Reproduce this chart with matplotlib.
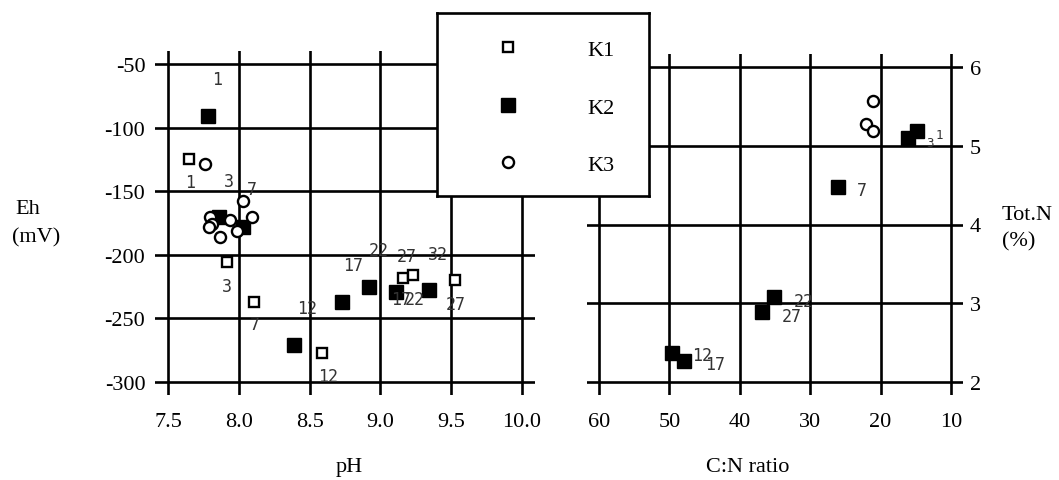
import matplotlib.pyplot as plt
from matplotlib.lines import Line2D

plt.rcParams["axes.unicode_minus"] = False

# ---- data ----
# left panel: pH vs Eh (mV)
k1_ph = [7.65, 7.92, 8.11, 8.59, 9.16, 9.23, 9.53]
k1_eh = [-125, -206, -237, -277, -218, -216, -220]
k2_ph = [7.78, 7.86, 8.03, 8.39, 8.73, 8.92, 9.11, 9.34]
k2_eh = [-91, -170, -178, -271, -237, -225, -229, -228]
k3_ph = [7.76, 8.03, 8.09, 7.80, 7.81, 7.79, 7.94, 7.87, 7.99]
k3_eh = [-129, -158, -170, -170, -176, -178, -173, -186, -181]

# point labels (sampling numbers) on the left panel
lab_left_txt = ["1", "3", "7", "12", "27", "1", "3", "7", "12", "17",
                "22", "27", "32", "17", "22"]
lab_left_x = [7.655, 7.915, 8.113, 8.627, 9.535, 7.845, 7.93, 8.092, 8.479,
              8.81, 8.986, 9.183, 9.408, 9.148, 9.239]
lab_left_y = [-142.8, -224.5, -254.4, -295.3, -238.7, -61.8, -142.0, -148.3,
              -241.8, -208.0, -196.2, -201.0, -199.4, -234.8, -234.8]

# right panel: C:N ratio vs Tot.N (%)
k2_cn = [14.8, 16.1, 26.05, 35.1, 36.85, 49.6, 47.9]
k2_n = [5.19, 5.10, 4.48, 3.08, 2.89, 2.37, 2.27]
k3_cn = [21.1, 22.1, 21.1]
k3_n = [5.57, 5.28, 5.19]

lab_right_txt = ["1", "3", "7", "22", "27", "12", "17"]
lab_right_x = [11.7, 13.0, 22.6, 30.9, 32.6, 45.4, 43.5]
lab_right_y = [5.149, 5.035, 4.438, 3.029, 2.838, 2.343, 2.229]

ph_ticks = [7.5, 8.0, 8.5, 9.0, 9.5, 10.0]
eh_ticks = [-300, -250, -200, -150, -100, -50]
cn_ticks = [60, 50, 40, 30, 20, 10]
n_ticks = [2, 3, 4, 5, 6]

serif = "Liberation Serif"
mono = "DejaVu Sans Mono"
lw = 1.9

fig = plt.figure(figsize=(10.59, 4.81), dpi=100)
W, H = 1059, 481


def px_axes(x0, y0, x1, y1):
    return fig.add_axes([x0 / W, 1 - y1 / H, (x1 - x0) / W, (y1 - y0) / H])


def style(ax):
    for s in ax.spines.values():
        s.set_visible(False)
    ax.grid(True, color="black", linewidth=lw)
    ax.set_axisbelow(True)
    ax.tick_params(length=0, labelsize=16)
    for t in ax.get_xticklabels() + ax.get_yticklabels():
        t.set_fontfamily(serif)


sq_open = dict(marker="s", markersize=7.5, markerfacecolor="white",
               markeredgecolor="black", markeredgewidth=1.7, linestyle="none")
sq_fill = dict(marker="s", markersize=9.5, color="black", linestyle="none")
circ = dict(marker="o", markersize=8, markerfacecolor="white",
            markeredgecolor="black", markeredgewidth=1.7, linestyle="none")

# ---- left panel ----
ax1 = px_axes(155, 52, 535, 396)
ax1.plot(k1_ph, k1_eh, **sq_open)
ax1.plot(k2_ph, k2_eh, **sq_fill)
ax1.plot(k3_ph, k3_eh, **circ)
for t, x, y in zip(lab_left_txt, lab_left_x, lab_left_y):
    ax1.text(x, y, t, family=mono, fontsize=12, color="#333",
             ha="center", va="center")
ax1.set_xlim(7.4085, 10.0915)
ax1.set_ylim(-310.2, -39.8)
ax1.set_xticks(ph_ticks)
ax1.set_xticklabels([f"{v:.1f}" for v in ph_ticks])
ax1.set_yticks(eh_ticks)
ax1.tick_params(axis="x", pad=12)
ax1.tick_params(axis="y", pad=7)
style(ax1)

# ---- right panel ----
ax2 = px_axes(587, 55, 963, 396)
ax2.plot(k2_cn, k2_n, **sq_fill)
ax2.plot(k3_cn, k3_n, **circ)
for t, x, y in zip(lab_right_txt, lab_right_x, lab_right_y):
    fs = 9 if t in ("1", "3") else 12
    ax2.text(x, y, t, family=mono, fontsize=fs, color="#333",
             ha="center", va="center")
ax2.set_xlim(61.7, 8.3)
ax2.set_ylim(1.835, 6.165)
ax2.set_xticks(cn_ticks)
ax2.set_yticks(n_ticks)
ax2.yaxis.tick_right()
ax2.tick_params(axis="x", pad=12)
ax2.tick_params(axis="y", pad=5)
style(ax2)

# ---- axis titles ----
fig.text(28 / W, 1 - 210 / H, "Eh", family=serif, fontsize=16,
         ha="center", va="center")
fig.text(36 / W, 1 - 238 / H, "(mV)", family=serif, fontsize=16,
         ha="center", va="center")
fig.text(1002 / W, 1 - 215 / H, "Tot.N", family=serif, fontsize=16,
         ha="left", va="center")
fig.text(1002 / W, 1 - 242 / H, "(%)", family=serif, fontsize=16,
         ha="left", va="center")
fig.text(349 / W, 1 - 468 / H, "pH", family=serif, fontsize=16,
         ha="center", va="center")
fig.text(748 / W, 1 - 468 / H, "C:N ratio", family=serif, fontsize=16,
         ha="center", va="center")

# ---- legend box ----
lax = px_axes(437, 14, 649, 197)
lax.set_xticks([])
lax.set_yticks([])
lax.set_facecolor("white")
for s in lax.spines.values():
    s.set_linewidth(lw)
handles = [Line2D([], [], **sq_open), Line2D([], [], **sq_fill),
           Line2D([], [], **circ)]
leg = lax.legend(handles, ["K1", "K2", "K3"], loc="center left",
                 bbox_to_anchor=(0.283, 0.485), frameon=False, borderpad=0,
                 borderaxespad=0, handlelength=1.0, handletextpad=3.05,
                 labelspacing=1.66, prop={"family": serif, "size": 16})

fig.savefig("out.png", dpi=100, facecolor="white")
